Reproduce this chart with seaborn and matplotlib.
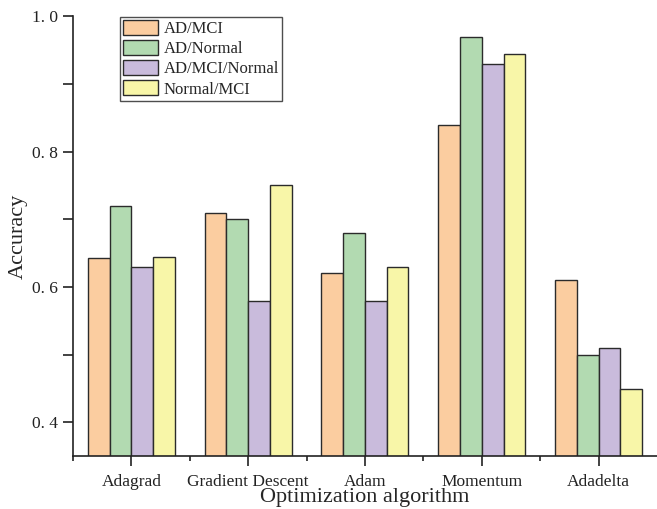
import matplotlib
matplotlib.use("Agg")
import matplotlib.pyplot as plt
import seaborn as sns
import pandas as pd
from matplotlib.ticker import FixedLocator

algorithms = ["Adagrad", "Gradient Descent", "Adam", "Momentum", "Adadelta"]
series = ["AD/MCI", "AD/Normal", "AD/MCI/Normal", "Normal/MCI"]
ad_mci = [0.643, 0.710, 0.620, 0.840, 0.610]
ad_normal = [0.720, 0.700, 0.680, 0.970, 0.500]
ad_mci_normal = [0.630, 0.580, 0.580, 0.930, 0.510]
normal_mci = [0.645, 0.750, 0.630, 0.945, 0.450]
y_ticks = [0.4, 0.6, 0.8, 1.0]
y_tick_labels = ["0. 4", "0. 6", "0. 8", "1. 0"]
colors = ["#FBCDA0", "#B2DAB1", "#C9BBDC", "#F8F6A8"]

rows = []
for s, vals in zip(series, [ad_mci, ad_normal, ad_mci_normal, normal_mci]):
    for a, v in zip(algorithms, vals):
        rows.append({"Optimization algorithm": a, "Series": s, "Accuracy": v})
df = pd.DataFrame(rows)

sns.set_style("ticks")
plt.rcParams["font.family"] = ["Liberation Serif", "DejaVu Serif"]

fig = plt.figure(figsize=(6.57, 5.09), dpi=100)
ax = fig.add_axes([0.111, 0.105, 0.889, 0.863])

sns.barplot(data=df, x="Optimization algorithm", y="Accuracy", hue="Series",
            hue_order=series, order=algorithms, palette=colors, width=0.745,
            gap=0, edgecolor="#2b2b2b", linewidth=1.0, saturation=1, ax=ax,
            errorbar=None)

ax.set_ylim(0.351, 1.0)
ax.set_xlim(-0.5, 4.5)
ax.yaxis.set_major_locator(FixedLocator(y_ticks))
ax.set_yticklabels(y_tick_labels)
ax.yaxis.set_minor_locator(FixedLocator([0.5, 0.7, 0.9]))
ax.xaxis.set_major_locator(FixedLocator(list(range(len(algorithms)))))
ax.set_xticklabels(algorithms)
ax.xaxis.set_minor_locator(FixedLocator([-0.5, 0.5, 1.5, 2.5, 3.5]))

ax.tick_params(axis="y", which="major", direction="out", length=7, width=1.2,
               labelsize=12.5, colors="#222222", labelcolor="#222222", pad=4)
ax.tick_params(axis="y", which="minor", direction="out", length=7, width=1.2,
               colors="#222222")
ax.tick_params(axis="x", which="major", direction="out", length=7, width=1.2,
               labelsize=12.5, colors="#222222", labelcolor="#222222", pad=6)
ax.tick_params(axis="x", which="minor", direction="out", length=3.5, width=1.2,
               colors="#222222")

for side in ["top", "right"]:
    ax.spines[side].set_visible(False)
for side in ["left", "bottom"]:
    ax.spines[side].set_linewidth(1.2)
    ax.spines[side].set_color("#222222")

ax.set_xlabel("Optimization algorithm", fontsize=16, labelpad=-1)
ax.set_ylabel("Accuracy", fontsize=16, labelpad=3)

leg = ax.legend(loc="upper left", bbox_to_anchor=(0.078, 1.003), fontsize=12,
                frameon=True, fancybox=False, edgecolor="#222222",
                handlelength=2.1, handleheight=1.0, borderpad=0.2,
                labelspacing=0.18, handletextpad=0.3, borderaxespad=0.1)
leg.get_frame().set_linewidth(1.0)

fig.savefig("out.png", dpi=100)
